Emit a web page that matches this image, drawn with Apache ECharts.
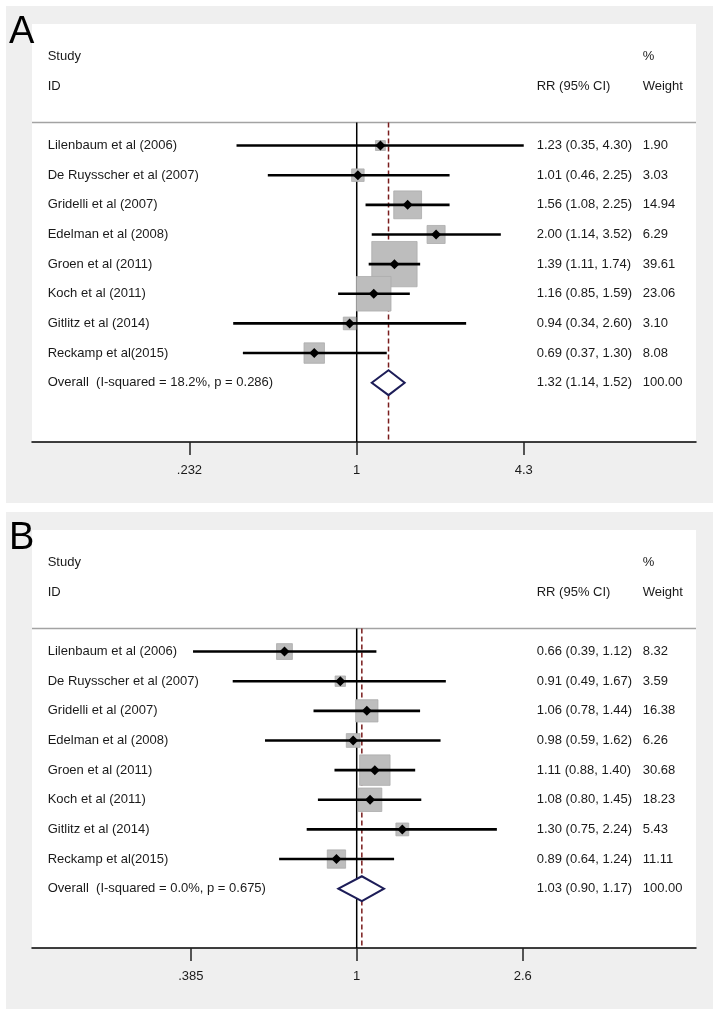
<!DOCTYPE html>
<html>
<head>
<meta charset="utf-8">
<script src="https://cdn.jsdelivr.net/npm/echarts@6/dist/echarts.min.js"></script>
<style>
html,body{margin:0;padding:0;background:#fff;}
#chart{width:720px;height:1016px;}
</style>
</head>
<body>
<div id="chart"></div>
<script>
// ---------- DATA ----------
const studies = ['Lilenbaum et al (2006)', 'De Ruysscher et al (2007)', 'Gridelli et al (2007)', 'Edelman et al (2008)',
  'Groen et al (2011)', 'Koch et al (2011)', 'Gitlitz et al (2014)', 'Reckamp et al(2015)'];
const headers = { study: 'Study', id: 'ID', rr: 'RR (95% CI)', pct: '%', weight: 'Weight' };

// Panel A
const rrA = [1.23, 1.01, 1.56, 2.00, 1.39, 1.16, 0.94, 0.69];
const loA = [0.35, 0.46, 1.08, 1.14, 1.11, 0.85, 0.34, 0.37];
const hiA = [4.30, 2.25, 2.25, 3.52, 1.74, 1.59, 2.60, 1.30];
const wA  = [1.90, 3.03, 14.94, 6.29, 39.61, 23.06, 3.10, 8.08];
const overallA = [1.32, 1.14, 1.52];
const overallLabelA = 'Overall  (I-squared = 18.2%, p = 0.286)';
const tickValsA = [0.232, 1, 4.3];
const tickLabelsA = ['.232', '1', '4.3'];

// Panel B
const rrB = [0.66, 0.91, 1.06, 0.98, 1.11, 1.08, 1.30, 0.89];
const loB = [0.39, 0.49, 0.78, 0.59, 0.88, 0.80, 0.75, 0.64];
const hiB = [1.12, 1.67, 1.44, 1.62, 1.40, 1.45, 2.24, 1.24];
const wB  = [8.32, 3.59, 16.38, 6.26, 30.68, 18.23, 5.43, 11.11];
const overallB = [1.03, 0.90, 1.17];
const overallLabelB = 'Overall  (I-squared = 0.0%, p = 0.675)';
const tickValsB = [0.385, 1, 2.6];
const tickLabelsB = ['.385', '1', '2.6'];

const panelLetters = ['A', 'B'];

// ---------- BUILD ----------
const FONT = 'Liberation Sans, Arial, sans-serif';
const TXT = '#1a1a1a';
const f2 = v => v.toFixed(2);

const panels = [
  { rr: rrA, lo: loA, hi: hiA, w: wA, ov: overallA, ovLabel: overallLabelA, tv: tickValsA, tl: tickLabelsA,
    xmin: -2.836, xmax: 2.963, top: 24, boxK: 7.2 },
  { rr: rrB, lo: loB, hi: hiB, w: wB, ov: overallB, ovLabel: overallLabelB, tv: tickValsB, tl: tickLabelsB,
    xmin: -1.868, xmax: 1.952, top: 530, boxK: 5.5 }
];

const grids = [], xAxes = [], yAxes = [], series = [], graphics = [];
const ROW0 = 4, ROWOV = 12, SEP = 3.22, YMIN = -0.1, YMAX = 14;

panels.forEach((p, pi) => {
  const gTop = p.top;
  graphics.push({ type: 'rect', z: -100, silent: true,
    shape: { x: 6, y: gTop - 18, width: 707, height: 497 }, style: { fill: '#efefef' } });
  graphics.push({ type: 'text', z: 10, left: 9, top: gTop - 10,
    style: { text: panelLetters[pi], font: '38px ' + FONT, fill: '#000' } });

  grids.push({ left: 32, width: 664, top: gTop, height: 418, show: true, backgroundColor: '#ffffff', borderWidth: 0 });

  const lnTicks = p.tv.map(v => Math.log(v));
  xAxes.push({
    type: 'value', gridIndex: pi, min: p.xmin, max: p.xmax, position: 'bottom',
    splitLine: { show: false },
    axisLine: { show: true, onZero: false, lineStyle: { color: '#000', width: 1.5 } },
    axisTick: { show: true, customValues: lnTicks, length: 13, lineStyle: { color: '#222', width: 1.5 } },
    axisLabel: { show: true, customValues: lnTicks, margin: 22, fontSize: 13, fontFamily: FONT, color: TXT,
      formatter: v => { for (let i = 0; i < lnTicks.length; i++) if (Math.abs(lnTicks[i] - v) < 1e-6) return p.tl[i]; return ''; } }
  });

  // text columns
  const nameMap = { 1: headers.study, 2: headers.id, [ROWOV]: p.ovLabel };
  const rrMap = { 2: headers.rr, [ROWOV]: f2(p.ov[0]) + ' (' + f2(p.ov[1]) + ', ' + f2(p.ov[2]) + ')' };
  const wMap = { 1: headers.pct, 2: headers.weight, [ROWOV]: '100.00' };
  studies.forEach((s, j) => {
    nameMap[ROW0 + j] = s;
    rrMap[ROW0 + j] = f2(p.rr[j]) + ' (' + f2(p.lo[j]) + ', ' + f2(p.hi[j]) + ')';
    wMap[ROW0 + j] = f2(p.w[j]);
  });
  const cols = [[nameMap, -15.7], [rrMap, -504.7], [wMap, -610.7]];
  cols.forEach(([m, margin]) => {
    const keys = Object.keys(m).map(Number);
    yAxes.push({
      type: 'value', gridIndex: pi, min: YMIN, max: YMAX, inverse: true, position: 'left',
      splitLine: { show: false }, axisLine: { show: false }, axisTick: { show: false },
      axisLabel: { show: true, customValues: keys, align: 'left', margin: margin, fontSize: 13, fontFamily: FONT, color: TXT,
        formatter: v => m[Math.round(v)] || '' }
    });
  });
  const yi = pi * 3;

  const seg = (name, data, style, z) => ({
    type: 'custom', name, xAxisIndex: pi, yAxisIndex: yi, z, silent: true, clip: false,
    data,
    renderItem: (params, api) => {
      const a = api.coord([api.value(0), api.value(1)]);
      const b = api.coord([api.value(2), api.value(3)]);
      return { type: 'line', shape: { x1: a[0], y1: a[1], x2: b[0], y2: b[1] }, style };
    }
  });

  // separator
  series.push(seg('sep', [[p.xmin, SEP, p.xmax, SEP]], { stroke: '#a3a3a3', lineWidth: 1.5 }, 1));
  // null line at 1
  series.push(seg('null', [[0, SEP, 0, YMAX]], { stroke: '#000', lineWidth: 1.5 }, 2));
  // overall dashed line
  const lnOv = Math.log(p.ov[0]);
  series.push(seg('ovline', [[lnOv, SEP, lnOv, YMAX]], { stroke: '#7a1c1c', lineWidth: 1.5, lineDash: [5, 3] }, 2));

  // weight boxes
  series.push({
    type: 'scatter', xAxisIndex: pi, yAxisIndex: yi, z: 3, silent: true,
    symbol: 'rect',
    data: p.rr.map((v, j) => ({ value: [Math.log(v), ROW0 + j], symbolSize: p.boxK * Math.sqrt(p.w[j]) })),
    itemStyle: { color: '#bdbdbd', borderColor: '#acacac', borderWidth: 0.8, opacity: 1 }
  });
  // CI lines
  series.push(seg('ci', p.lo.map((v, j) => [Math.log(v), ROW0 + j, Math.log(p.hi[j]), ROW0 + j]),
    { stroke: '#000', lineWidth: 2.6 }, 4));
  // point estimates
  series.push({
    type: 'scatter', xAxisIndex: pi, yAxisIndex: yi, z: 5, silent: true,
    symbol: 'diamond', symbolSize: 10,
    data: p.rr.map((v, j) => [Math.log(v), ROW0 + j]),
    itemStyle: { color: '#000', opacity: 1 }
  });
  // overall diamond
  series.push({
    type: 'custom', xAxisIndex: pi, yAxisIndex: yi, z: 6, silent: true, clip: false,
    data: [[Math.log(p.ov[1]), Math.log(p.ov[0]), Math.log(p.ov[2]), ROWOV]],
    renderItem: (params, api) => {
      const r = api.value(3), h = 0.42;
      const pts = [api.coord([api.value(0), r]), api.coord([api.value(1), r - h]),
                   api.coord([api.value(2), r]), api.coord([api.value(1), r + h])];
      return { type: 'polygon', shape: { points: pts }, style: { fill: '#fff', stroke: '#1d1d58', lineWidth: 2 } };
    }
  });
});

const chart = echarts.init(document.getElementById('chart'), null, { renderer: 'canvas' });
chart.setOption({
  backgroundColor: '#ffffff',
  animation: false,
  graphic: graphics,
  grid: grids,
  xAxis: xAxes,
  yAxis: yAxes,
  series: series
});
</script>
</body>
</html>
